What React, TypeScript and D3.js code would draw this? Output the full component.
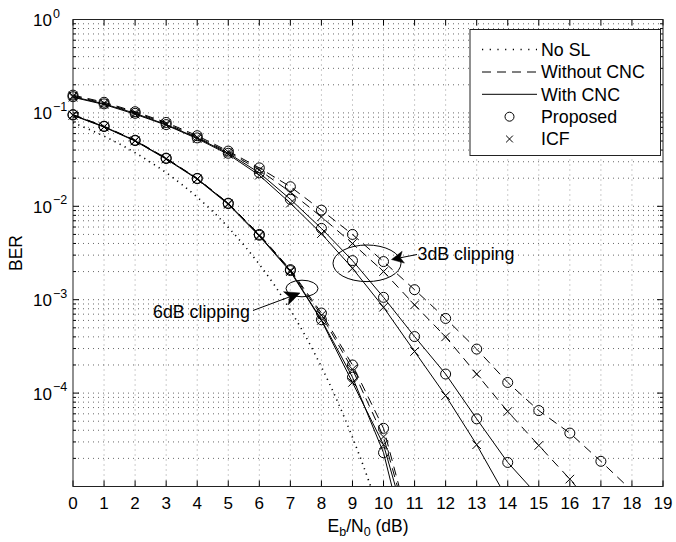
import React from 'react';
import * as d3 from 'd3';

// Eb/N0 grid (dB) of the simulated curves
const ebn0 = [0, 1, 2, 3, 4, 5, 6, 7, 8, 9, 10, 11, 12, 13, 14, 15, 16, 17, 18];

// theory curve, no clipping (dotted)
const noSlEbN0 = [0, 0.5, 1, 1.5, 2, 2.5, 3, 3.5, 4, 4.5, 5, 5.5, 6, 6.5, 7, 7.5, 8, 8.5, 9, 9.5, 10];
const noSlBer = [0.0786, 0.0671, 0.0563, 0.0464, 0.0375, 0.0296, 0.0229, 0.0172, 0.0125, 0.00881, 0.00595,
  0.00385, 0.00239, 0.00141, 7.73e-4, 3.99e-4, 1.91e-4, 8.4e-5, 3.36e-5, 1.21e-5, 3.87e-6];

// 6dB clipping
const prop6NoCnc = [0.096, 0.072, 0.051, 0.0328, 0.0199, 0.0108, 0.005, 0.0021, 7.2e-4, 2.0e-4, 4.2e-5, 2.4e-6];
const icf6NoCnc = [0.095, 0.071, 0.0505, 0.0324, 0.0197, 0.0107, 0.0049, 0.00206, 6.8e-4, 1.8e-4, 3.4e-5, 2.2e-6];
const prop6Cnc = [0.095, 0.0715, 0.0505, 0.0325, 0.0198, 0.0107, 0.0049, 0.00205, 6.1e-4, 1.48e-4, 2.3e-5, 1.05e-6];
const icf6Cnc = [0.094, 0.0705, 0.05, 0.032, 0.0195, 0.0105, 0.0048, 0.002, 6.0e-4, 1.3e-4, 2.8e-5, 1.9e-6];

// 3dB clipping
const prop3NoCnc = [0.155, 0.13, 0.103, 0.079, 0.057, 0.039, 0.0258, 0.0162, 0.0091, 0.005, 0.00256, 0.00128,
  6.3e-4, 2.96e-4, 1.3e-4, 6.5e-5, 3.73e-5, 1.86e-5, 9e-6];
const icf3NoCnc = [0.152, 0.127, 0.101, 0.077, 0.055, 0.038, 0.0245, 0.0142, 0.0077, 0.004, 0.002, 8.8e-4,
  4.0e-4, 1.6e-4, 6.35e-5, 2.75e-5, 1.2e-5, 4.8e-6];
const prop3Cnc = [0.149, 0.125, 0.099, 0.075, 0.054, 0.037, 0.0228, 0.0119, 0.0058, 0.00262, 0.00106, 4.03e-4,
  1.6e-4, 5.3e-5, 1.81e-5, 7.8e-6];
const icf3Cnc = [0.147, 0.123, 0.097, 0.074, 0.053, 0.036, 0.0215, 0.0108, 0.0051, 0.00217, 8.3e-4, 2.79e-4,
  9.4e-5, 2.8e-5, 7.2e-6];

const xTicks = d3.range(0, 20);
const yExps = [0, -1, -2, -3, -4];
const legendLabels = ['No SL', 'Without CNC', 'With CNC', 'Proposed', 'ICF'];

const W = 676, H = 542;
const L = 73, R = 663, T = 19.5, B = 486.5;
const FONT = '"Liberation Sans", Arial, Helvetica, sans-serif';

const x = d3.scaleLinear().domain([0, 19]).range([L, R]);
const y = d3.scaleLog().domain([1e-5, 1]).range([B, T]);

type Pt = [number, number];
const pts = (vals: number[], xv: number[] = ebn0): Pt[] => vals.map((v, i) => [xv[i], v]);

const line = d3.line<Pt>().x(d => x(d[0])).y(d => y(d[1]));
const smooth = d3.line<Pt>().x(d => x(d[0])).y(d => y(d[1])).curve(d3.curveMonotoneX);

const series = [
  { vals: prop6NoCnc, dash: '9,6', marker: 'o' },
  { vals: icf6NoCnc, dash: '9,6', marker: 'x' },
  { vals: prop6Cnc, dash: null, marker: 'o' },
  { vals: icf6Cnc, dash: null, marker: 'x' },
  { vals: prop3NoCnc, dash: '9,6', marker: 'o' },
  { vals: icf3NoCnc, dash: '9,6', marker: 'x' },
  { vals: prop3Cnc, dash: null, marker: 'o' },
  { vals: icf3Cnc, dash: null, marker: 'x' },
];

const Marker = ({ kind, cx, cy, s }: { kind: string; cx: number; cy: number; s: number }) =>
  kind === 'o' ? (
    <circle cx={cx} cy={cy} r={s} fill="none" stroke="#000" strokeWidth={1} />
  ) : (
    <path d={`M${cx - s * 0.85},${cy - s * 0.85}L${cx + s * 0.85},${cy + s * 0.85}M${cx - s * 0.85},${cy + s * 0.85}L${cx + s * 0.85},${cy - s * 0.85}`}
      stroke="#000" strokeWidth={1} fill="none" />
  );

// arrow from tail to tip with filled head
const Arrow = ({ tail, tip, len, hw }: { tail: Pt; tip: Pt; len: number; hw: number }) => {
  const dx = tip[0] - tail[0], dy = tip[1] - tail[1];
  const n = Math.hypot(dx, dy);
  const ux = dx / n, uy = dy / n;
  const bx = tip[0] - ux * len, by = tip[1] - uy * len;
  const nx = tip[0] - ux * len * 0.75, ny = tip[1] - uy * len * 0.75;
  const head = `M${tip[0]},${tip[1]}L${bx - uy * hw},${by + ux * hw}L${nx},${ny}L${bx + uy * hw},${by - ux * hw}Z`;
  return (
    <g>
      <line x1={tail[0]} y1={tail[1]} x2={nx} y2={ny} stroke="#000" strokeWidth={1} />
      <path d={head} fill="#000" stroke="#000" strokeWidth={0.5} />
    </g>
  );
};

export default function App() {
  const minorY: number[] = [];
  for (let e = -5; e < 0; e++) for (let m = 2; m <= 9; m++) minorY.push(m * Math.pow(10, e));
  const majorY = yExps.map(e => Math.pow(10, e)).concat([1e-5]);

  const legY = [49.5, 72, 94.3, 116.7, 139];

  return (
    <svg width={W} height={H} style={{ position: 'absolute', left: 0, top: 0, background: '#fff' }}
      fontFamily={FONT}>
      <defs>
        <clipPath id="plot">
          <rect x={L} y={T} width={R - L} height={B - T} />
        </clipPath>
      </defs>
      <rect x={0} y={0} width={W} height={H} fill="#fff" />

      {/* grid */}
      <g stroke="#6a6a6a" strokeWidth={1} strokeDasharray="1,4" fill="none">
        {xTicks.slice(1, -1).map(t => (
          <line key={'gx' + t} x1={x(t)} x2={x(t)} y1={T} y2={B} stroke="#999" />
        ))}
        {majorY.concat(minorY).filter(v => v > 1e-5 && v < 1).map(v => (
          <line key={'gy' + v} x1={L} x2={R} y1={y(v)} y2={y(v)} />
        ))}
      </g>

      {/* ticks */}
      <g stroke="#000" strokeWidth={1}>
        {xTicks.map(t => (
          <g key={'tx' + t}>
            <line x1={x(t)} x2={x(t)} y1={B} y2={B - 6} />
            <line x1={x(t)} x2={x(t)} y1={T} y2={T + 6} />
          </g>
        ))}
        {majorY.map(v => (
          <g key={'ty' + v}>
            <line x1={L} x2={L + 6} y1={y(v)} y2={y(v)} />
            <line x1={R} x2={R - 6} y1={y(v)} y2={y(v)} />
          </g>
        ))}
        {minorY.map(v => (
          <g key={'tm' + v}>
            <line x1={L} x2={L + 3} y1={y(v)} y2={y(v)} />
            <line x1={R} x2={R - 3} y1={y(v)} y2={y(v)} />
          </g>
        ))}
      </g>

      {/* curves */}
      <g clipPath="url(#plot)" fill="none" stroke="#000" strokeWidth={1}>
        <path d={smooth(pts(noSlBer, noSlEbN0)) || ''} strokeWidth={1.6} strokeDasharray="1.2,4.5" />
        {series.map((s, i) => (
          <path key={'s' + i} d={line(pts(s.vals)) || ''} strokeDasharray={s.dash || undefined} />
        ))}
      </g>
      <g>
        {series.map((s, i) =>
          pts(s.vals).filter(d => d[1] >= 1e-5).map((d, j) => (
            <Marker key={'m' + i + '_' + j} kind={s.marker} cx={x(d[0])} cy={y(d[1])} s={5} />
          ))
        )}
      </g>

      {/* annotations */}
      <ellipse cx={367} cy={263.3} rx={34} ry={18.3} fill="none" stroke="#000" strokeWidth={1} />
      <ellipse cx={302} cy={288.5} rx={16} ry={8.3} fill="none" stroke="#000" strokeWidth={1} />
      <Arrow tail={[417, 254.5]} tip={[391.5, 259.5]} len={12} hw={6} />
      <Arrow tail={[253, 310.5]} tip={[300, 293]} len={15} hw={7} />
      <text x={417.5} y={260} fontSize={17.8}>3dB clipping</text>
      <text x={153} y={318} fontSize={17.8}>6dB clipping</text>

      {/* frame */}
      <rect x={L} y={T} width={R - L} height={B - T} fill="none" stroke="#222" strokeWidth={1} />

      {/* tick labels */}
      <g fontSize={17} textAnchor="middle">
        {xTicks.map(t => (
          <text key={'lx' + t} x={x(t)} y={508.5}>{t}</text>
        ))}
      </g>
      {yExps.map(e => (
        <g key={'ly' + e}>
          <text x={52} y={y(Math.pow(10, e)) + 6.5} fontSize={17} textAnchor="end">10</text>
          <text x={53} y={y(Math.pow(10, e)) - 2} fontSize={12.5}>{e === 0 ? '0' : '\u2212' + -e}</text>
        </g>
      ))}

      {/* axis labels */}
      <text transform="translate(22,253) rotate(-90)" fontSize={17.5} textAnchor="middle">BER</text>
      <text x={368} y={532} fontSize={17.5} textAnchor="middle">
        E<tspan fontSize={12.5} dy={4}>b</tspan><tspan dy={-4}>/N</tspan>
        <tspan fontSize={12.5} dy={4}>0</tspan><tspan dy={-4}> (dB)</tspan>
      </text>

      {/* legend */}
      <g>
        <rect x={470} y={29.5} width={190.5} height={126} fill="#fff" stroke="#222" strokeWidth={1} />
        <line x1={482} x2={537} y1={legY[0]} y2={legY[0]} stroke="#000" strokeWidth={1.6} strokeDasharray="1.2,6.5" />
        <line x1={482} x2={537} y1={legY[1]} y2={legY[1]} stroke="#000" strokeWidth={1} strokeDasharray="9,6" />
        <line x1={482} x2={537} y1={legY[2]} y2={legY[2]} stroke="#000" strokeWidth={1} />
        <Marker kind="o" cx={509.5} cy={legY[3]} s={4.5} />
        <Marker kind="x" cx={509.5} cy={legY[4]} s={4} />
        {legendLabels.map((t, i) => (
          <text key={'lg' + t} x={541} y={legY[i] + 6.3} fontSize={17.8}>{t}</text>
        ))}
      </g>
    </svg>
  );
}
